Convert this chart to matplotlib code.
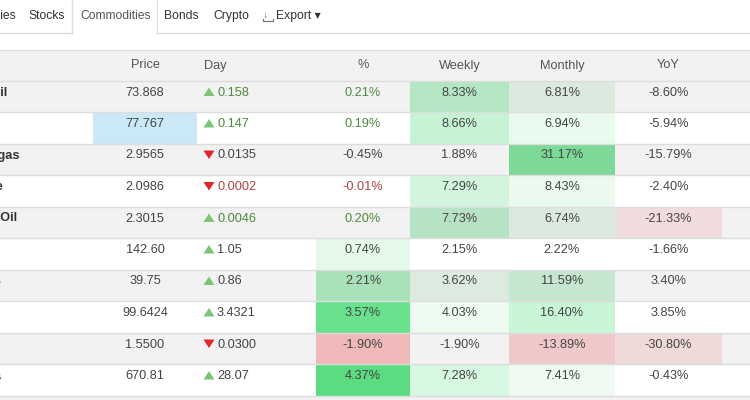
import matplotlib
matplotlib.use("Agg")
import matplotlib.pyplot as plt
from matplotlib.patches import Rectangle, Polygon

plt.rcParams['font.family'] = ['Liberation Sans', 'DejaVu Sans']

# ---------------- data ----------------
tabs = ["Currencies", "Stocks", "Commodities", "Bonds", "Crypto"]
columns = ["Price", "Day", "%", "Weekly", "Monthly", "YoY"]
names = ["Crude Oil", "Brent", "Natural gas", "Gasoline", "Heating Oil",
         "Coal", "TTF Gas", "UK Gas", "Ethanol", "Naphtha"]
prices = ["73.868", "77.767", "2.9565", "2.0986", "2.3015",
          "142.60", "39.75", "99.6424", "1.5500", "670.81"]
day_change = ["0.158", "0.147", "0.0135", "0.0002", "0.0046",
              "1.05", "0.86", "3.4321", "0.0300", "28.07"]
day_up = [True, True, False, False, True, True, True, True, False, True]
pct = [0.21, 0.19, -0.45, -0.01, 0.20, 0.74, 2.21, 3.57, -1.90, 4.37]
weekly = [8.33, 8.66, 1.88, 7.29, 7.73, 2.15, 3.62, 4.03, -1.90, 7.28]
monthly = [6.81, 6.94, 31.17, 8.43, 6.74, 2.22, 11.59, 16.40, -13.89, 7.41]
yoy = [-8.60, -5.94, -15.79, -2.40, -21.33, -1.66, 3.40, 3.85, -30.80, -0.43]

# ---------------- styles ----------------
# cell highlight colours: (price, pct, weekly, monthly, yoy)
cell_colors = [
    (None, None, '#b4e6c4', '#dbeade', None),
    ('#cbe8f6', None, '#c6f3d4', '#e9faee', None),
    (None, None, None, '#7cd998', None),
    (None, None, '#d3f5de', '#ebfaef', None),
    (None, None, '#b6e3c3', '#dbe9df', '#f0dcdc'),
    (None, '#e5f9eb', None, None, None),
    (None, '#a9e2b9', '#dceadf', '#c6e6cf', None),
    (None, '#6ae18d', '#edfbf1', '#c8f5d6', None),
    (None, '#efb9b9', None, '#efc9c9', '#efd9d9'),
    (None, '#5cdc81', '#d6f7e0', '#effbf2', None),
]

W, H = 750, 400
fig = plt.figure(figsize=(7.5, 4.0), dpi=100)
ax = fig.add_axes([0, 0, 1, 1])
ax.set_xlim(0, W)
ax.set_ylim(H, 0)
ax.axis('off')

FS = 9.2
TXT = '#444444'
LINE = '#dddddd'
GRAY = '#f2f2f2'

# column edges (pixels)
col_edges = [93, 197, 316, 410, 509, 615, 722, 750]
row_top = 80.5
row_h = 31.5
head_top = 49.5

# ---- tabs ----
TFS = 8.7
tab_x = [-43, 28, 80, 164, 213]
for t, x in zip(tabs, tab_x):
    ax.text(x, 16, t, fontsize=TFS, color='#555555' if t == "Commodities" else '#333333',
            ha='left', va='center')
# export (download icon + caret)
ax.text(263, 15, "↓", fontsize=7.5, color='#777777', ha='left', va='center')
ax.plot([262.5, 262.5, 272.5, 272.5], [18.5, 20.5, 20.5, 18.5], color='#777777', lw=0.9)
ax.text(276, 16, "Export ▾", fontsize=TFS, color='#333333', ha='left', va='center')
# active tab border
ax.plot([71.5, 71.5], [-2, 32.5], color=LINE, lw=1)
ax.plot([156.5, 156.5], [-2, 32.5], color=LINE, lw=1)
ax.plot([0, 71.5], [32.5, 32.5], color=LINE, lw=1)
ax.plot([156.5, W], [32.5, 32.5], color=LINE, lw=1)

# ---- header ----
ax.add_patch(Rectangle((0, head_top), W, row_top - head_top, facecolor=GRAY, edgecolor='none'))
ax.plot([0, W], [head_top, head_top], color=LINE, lw=1)
hy = 65.5
for i, c in enumerate(columns):
    if c == "Day":
        ax.text(204, hy, c, fontsize=FS, color='#555555', ha='left', va='center')
    else:
        xc = (col_edges[i] + col_edges[i + 1]) / 2
        ax.text(xc, hy, c, fontsize=FS, color='#555555', ha='center', va='center')

# ---- rows ----
n = len(names)
for r in range(n):
    y0 = row_top + r * row_h
    if r % 2 == 0:
        ax.add_patch(Rectangle((0, y0), W, row_h, facecolor=GRAY, edgecolor='none'))
    # highlighted cells
    col_idx = [0, 2, 3, 4, 5]
    for k, ci in enumerate(col_idx):
        colr = cell_colors[r][k]
        if colr:
            ax.add_patch(Rectangle((col_edges[ci], y0), col_edges[ci + 1] - col_edges[ci],
                                   row_h, facecolor=colr, edgecolor='none'))
    ax.plot([0, W], [y0, y0], color=LINE, lw=1, zorder=3)
    ty = y0 + 12.0
    # name (cut off at left edge)
    ax.text(-50, ty, names[r], fontsize=FS, fontweight='bold', color='#333333',
            ha='left', va='center')
    # price
    ax.text((col_edges[0] + col_edges[1]) / 2, ty, prices[r], fontsize=FS, color=TXT,
            ha='center', va='center')
    # day triangle + value
    small = abs(pct[r]) < 0.3
    if day_up[r]:
        tri = [(203.5, ty + 3.5), (214.5, ty + 3.5), (209, ty - 5)]
        tcol = '#7cc576'
        vcol = '#4d8a3c' if small else TXT
    else:
        tri = [(203.5, ty - 5), (214.5, ty - 5), (209, ty + 3.5)]
        tcol = '#e0262b'
        vcol = '#a94442' if small else TXT
    ax.add_patch(Polygon(tri, closed=True, facecolor=tcol, edgecolor='none', zorder=4))
    ax.text(217, ty, day_change[r], fontsize=FS, color=vcol, ha='left', va='center')
    # percentages
    if small:
        pcol = '#4d8a3c' if pct[r] > 0 else '#a94442'
    else:
        pcol = TXT
    ax.text((col_edges[2] + col_edges[3]) / 2, ty, f"{pct[r]:.2f}%", fontsize=FS,
            color=pcol, ha='center', va='center')
    for ci, vals in ((3, weekly), (4, monthly), (5, yoy)):
        ax.text((col_edges[ci] + col_edges[ci + 1]) / 2, ty, f"{vals[r]:.2f}%",
                fontsize=FS, color=TXT, ha='center', va='center')

y_end = row_top + n * row_h
ax.plot([0, W], [y_end, y_end], color=LINE, lw=1, zorder=3)
ax.add_patch(Rectangle((0, y_end + 0.5), W, H - y_end, facecolor=GRAY, edgecolor='none'))

fig.savefig("out.png", dpi=100)
